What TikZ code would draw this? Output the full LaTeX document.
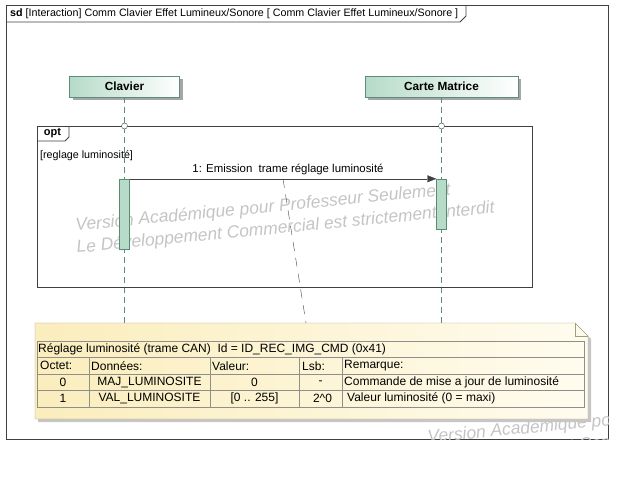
\documentclass[tikz,border=0pt]{standalone}
\usepackage{fontspec}
\setmainfont{Liberation Sans}
\usetikzlibrary{arrows.meta,shadows}

\definecolor{framegray}{HTML}{404040}
\definecolor{headgreen}{HTML}{B6DBC8}
\definecolor{lineteal}{HTML}{5E8C7C}
\definecolor{actborder}{HTML}{5B8A72}
\definecolor{notedark}{HTML}{FBEDBC}
\definecolor{notelight}{HTML}{FFFCEF}
\definecolor{noteborder}{HTML}{A59D78}
\definecolor{cellgray}{HTML}{8E8E8E}
\definecolor{wmgray}{HTML}{C4C4C4}

\begin{document}
\begin{tikzpicture}[x=1pt, y=-1pt, >={Triangle[length=9pt,width=7pt]}, line join=miter,
		every node/.style={font=\fontsize{10.7}{13}\selectfont, inner sep=0pt},
		headbox/.style={draw=lineteal, left color=headgreen, right color=white, minimum height=21pt,
			font=\fontsize{11.8}{13}\selectfont\bfseries,
			drop shadow={shadow xshift=3pt, shadow yshift=-3pt, fill=gray!70, opacity=1}},
		lifeline/.style={draw=lineteal, dash pattern=on 6pt off 4pt},
		lifecirc/.style={circle, draw=framegray, fill=white, minimum size=6pt},
		actbox/.style={draw=actborder, fill=headgreen, minimum width=10pt},
		msgline/.style={draw=framegray, ->},
		notelink/.style={draw=framegray, dash pattern=on 9pt off 7pt},
		notebox/.style={draw=noteborder, left color=notedark, right color=notelight,
			drop shadow={shadow xshift=3pt, shadow yshift=-3pt, fill=gray!45, opacity=1}},
		cellline/.style={draw=cellgray},
		celltext/.style={font=\fontsize{12}{13}\selectfont},
		wmtext/.style={text=wmgray, font=\fontsize{17.4}{20}\selectfont\itshape, rotate=5.5, anchor=base west}]
	
	\useasboundingbox (0,0) rectangle (623,480);
	
	% --- Parameter (Lebenslinien) ---
	\pgfmathsetmacro{\XA}{124.5}  % Clavier
	\pgfmathsetmacro{\XB}{441.5}  % Carte Matrice
	
	% --- Rahmen sd ---
	\draw[framegray, line width=0.8pt] (6,5) rectangle (608,439);
	\draw[framegray, line width=0.8pt] (6,22) -- (460,22) -- (466,16) -- (466,5);
	\node[anchor=west] (sdTitle) at (10,13.5)
		{\textbf{sd} [Interaction] Comm Clavier Effet Lumineux/Sonore [ Comm Clavier Effet Lumineux/Sonore\ ]};
	
	% --- Lebenslinien ---
	\coordinate (clavEnd) at (\XA,330);
	\coordinate (carteEnd) at (\XB,330);
	\node[headbox, minimum width=110pt] (clavier) at (\XA,86.5) {Clavier};
	\node[headbox, minimum width=153pt] (carte) at (\XB,86.5) {Carte Matrice};
	\draw[lifeline] (clavier.south) -- (clavEnd);
	\draw[lifeline] (carte.south) -- (carteEnd);
	
	% --- Fragment opt ---
	\draw[framegray, line width=0.8pt] (37,126) rectangle (532,287);
	\draw[framegray, line width=0.8pt] (37,141) -- (65,141) -- (69,137) -- (69,126);
	\node[font=\fontsize{11}{13}\selectfont\bfseries] (optLabel) at (52.5,133.5) {opt};
	\node[anchor=west] (guard) at (40,155.5) {[reglage luminosité]};
	\node[lifecirc] (clavCirc) at (\XA,126) {};
	\node[lifecirc] (carteCirc) at (\XB,126) {};
	
	% --- Wasserzeichen ---
	\node[wmtext] (wmA) at (76,231) {Version Académique pour Professeur Seulement};
	\node[wmtext] (wmB) at (77,253) {Le Développement Commercial est strictement Interdit};
	\begin{scope}
		\clip (6,5) rectangle (608,439);
		\node[wmtext] (wmC) at (428,443) {Version Académique pour Professeur Seulement};
		\node[wmtext] (wmD) at (429,465) {Le Développement Commercial est strictement Interdit};
	\end{scope}
	
	% --- Aktivierungen und Nachricht ---
	\node[actbox, minimum height=70pt] (clavAct) at (\XA,214) {};
	\node[actbox, minimum height=50pt] (carteAct) at (\XB,204) {};
	\draw[msgline] (clavAct.north east) -- (carteAct.north west)
		coordinate[midway] (msgMid)
		node[midway, above=4pt, xshift=5pt, font=\fontsize{11.4}{13}\selectfont] (msgLabel) {1: Emission\ \ trame réglage luminosité};
	
	% --- Notiz (Tabelle CAN) ---
	\coordinate (noteTop) at (306,323);
	\draw[notelink] (msgMid) -- (noteTop);
	\path[notebox] (35,323) -- (575,323) -- (588,336) -- (588,419) -- (35,419) -- cycle;
	\draw[noteborder] (575,323) -- (575,336) -- (588,336);
	
	\draw[cellline] (37,341) rectangle (584,407);
	\foreach \ry in {357.5,374,390.5}
		\draw[cellline] (37,\ry) -- (584,\ry);
	\foreach \cx in {89,210,299,342}
		\draw[cellline] (\cx,357.5) -- (\cx,407);
	
	\node[celltext, anchor=west] (tabTitle) at (38,349.5) {Réglage luminosité (trame CAN)\ \ Id = ID\_REC\_IMG\_CMD (0x41)};
	\node[celltext, anchor=west] (hOctet) at (40,365.75) {Octet:};
	\node[celltext, anchor=west] (hDonnees) at (91,365.75) {Données:};
	\node[celltext, anchor=west] (hValeur) at (212,365.75) {Valeur:};
	\node[celltext, anchor=west] (hLsb) at (302,365.75) {Lsb:};
	\node[celltext, anchor=west] (hRemarque) at (344,365.75) {Remarque:};
	
	\node[celltext] (octA) at (63,382.25) {0};
	\node[celltext] (donA) at (149.5,382.25) {MAJ\_LUMINOSITE};
	\node[celltext] (valA) at (254.5,382.25) {0};
	\node[celltext] (lsbA) at (320.5,382.25) {-};
	\node[celltext, anchor=west] (remA) at (344,382.25) {Commande de mise a jour de luminosité};
	
	\node[celltext] (octB) at (63,398.75) {1};
	\node[celltext] (donB) at (149.5,398.75) {VAL\_LUMINOSITE};
	\node[celltext] (valB) at (254.5,398.75) {[0 .. 255]};
	\node[celltext] (lsbB) at (322.5,398.75) {2\textasciicircum 0};
	\node[celltext, anchor=west] (remB) at (347,398.75) {Valeur luminosité (0 = maxi)};
	
\end{tikzpicture}
\end{document}
